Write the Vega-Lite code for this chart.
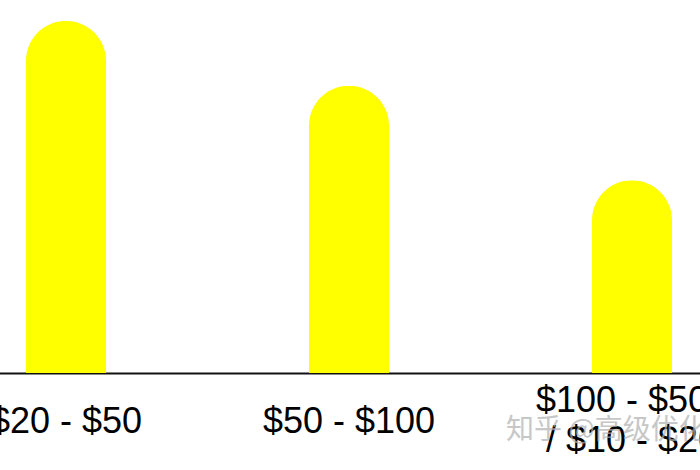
{
  "$schema": "https://vega.github.io/schema/vega-lite/v6.json",
  "width": 700,
  "height": 373,
  "autosize": {"type": "none"},
  "padding": {"left": 0, "top": 0, "right": 0, "bottom": 97},
  "background": "white",
  "config": {"view": {"stroke": null}},
  "data": {
    "values": [
      {"range": "$20 - $50", "value": 94.4},
      {"range": "$50 - $100", "value": 77.0},
      {"range": "$100 - $500\n/ $10 - $20", "value": 51.7}
    ]
  },
  "layer": [
    {
      "mark": {"type": "bar", "color": "#FFFF00", "size": 80, "cornerRadiusTopLeft": 40, "cornerRadiusTopRight": 40},
      "encoding": {
        "x": {
          "field": "range", "type": "nominal", "sort": null,
          "scale": {"range": [-75.5, 773.5], "paddingInner": 0, "paddingOuter": 0},
          "axis": {
            "title": null,
            "ticks": false,
            "grid": false,
            "domainColor": "#111111",
            "domainWidth": 2,
            "labelAngle": 0,
            "labelFont": "Liberation Sans",
            "labelFontSize": 36,
            "labelColor": "#000000",
            "labelBaseline": "middle",
            "labelPadding": {"condition": {"test": "indexof(datum.value, '/') >= 0", "value": 27}, "value": 48},
            "labelLineHeight": 40,
            "labelOverlap": false,
            "labelBound": false,
            "labelFlush": false,
            "labelLimit": 0,
            "labelExpr": "split(datum.label, '\\n')"
          }
        },
        "y": {
          "field": "value", "type": "quantitative",
          "scale": {"domain": [0, 100], "nice": false},
          "axis": null
        }
      }
    },
    {
      "data": {"values": [{"range": "$100 - $500\n/ $10 - $20", "pos": -15.5, "note": "知乎 @高级优化"}]},
      "mark": {"type": "text", "align": "left", "baseline": "middle", "dx": -126, "font": "Noto Sans CJK SC", "fontSize": 28, "color": "#b0b0b0", "opacity": 0.7, "clip": false},
      "encoding": {
        "x": {"field": "range", "type": "nominal", "sort": null},
        "y": {"field": "pos", "type": "quantitative"},
        "text": {"field": "note"}
      }
    }
  ]
}
